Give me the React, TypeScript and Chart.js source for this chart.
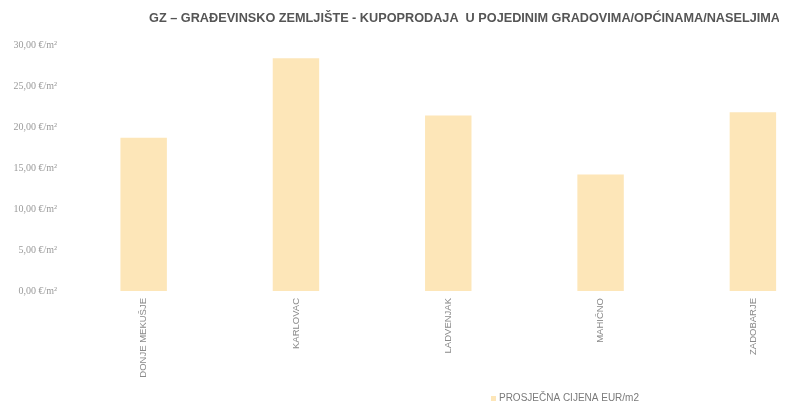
import { useEffect, useRef } from 'react';
import { Chart, registerables } from 'chart.js';

Chart.register(...registerables);

const TITLE = 'GZ – GRAĐEVINSKO ZEMLJIŠTE - KUPOPRODAJA  U POJEDINIM GRADOVIMA/OPĆINAMA/NASELJIMA';
const categories = ['DONJE MEKUŠJE', 'KARLOVAC', 'LADVENJAK', 'MAHIČNO', 'ZADOBARJE'];
const prices = [18.7, 28.4, 21.4, 14.2, 21.8];
const seriesLabel = 'PROSJEČNA CIJENA EUR/m2';
const yTicks = [0, 5, 10, 15, 20, 25, 30];

const BAR_COLOR = '#fde6b8';

const legendPlugin = {
  id: 'customLegend',
  afterDraw(chart: any) {
    const { ctx } = chart;
    const x = chart.width * 0.62;
    const y = chart.height - 8.5;
    ctx.save();
    ctx.fillStyle = BAR_COLOR;
    ctx.fillRect(x, y - 2.5, 5, 5);
    ctx.fillStyle = '#7a7a7a';
    ctx.font = '10px "Liberation Sans", Arial, sans-serif';
    ctx.textBaseline = 'middle';
    ctx.textAlign = 'left';
    ctx.fillText(seriesLabel, x + 8, y);
    ctx.restore();
  },
};

export default function App() {
  const ref = useRef<HTMLCanvasElement | null>(null);

  useEffect(() => {
    if (!ref.current) return;
    const chart = new Chart(ref.current, {
      type: 'bar',
      data: {
        datasets: [
          {
            label: seriesLabel,
            data: prices.map((y, i) => ({ x: i, y })),
            backgroundColor: BAR_COLOR,
            borderWidth: 0,
            barPercentage: 0.305,
            categoryPercentage: 1,
          },
        ],
      },
      options: {
        animation: false,
        responsive: true,
        maintainAspectRatio: false,
        layout: { padding: { top: 0, right: 7, bottom: 0, left: 0 } },
        plugins: {
          legend: { display: false },
          tooltip: { enabled: false },
          title: {
            display: true,
            text: TITLE,
            align: 'end',
            color: '#555555',
            font: { family: '"Liberation Sans", Arial, sans-serif', size: 12.7, weight: 'bold' },
            padding: { top: 3, bottom: 18.8 },
          },
        },
        scales: {
          x: {
            type: 'linear',
            offset: false,
            min: -0.5,
            max: 4.178,
            grid: { display: false, drawTicks: false, offset: false },
            border: { display: false },
            afterBuildTicks: (s: any) => {
              s.ticks = categories.map((_, i) => ({ value: i }));
            },
            afterFit: (s: any) => {
              s.height = 116;
            },
            ticks: {
              autoSkip: false,
              minRotation: 90,
              maxRotation: 90,
              padding: 7,
              color: '#8a8a8a',
              font: { family: '"Liberation Sans", Arial, sans-serif', size: 9.5 },
              callback: (v: any) => (Number.isInteger(v) ? categories[v] : ''),
            },
          },
          y: {
            min: 0,
            max: 30,
            grid: { display: false, drawTicks: false },
            border: { display: false },
            afterBuildTicks: (s: any) => {
              s.ticks = yTicks.map((v) => ({ value: v }));
            },
            afterFit: (s: any) => {
              s.width = 59.5;
            },
            ticks: {
              padding: 10.5,
              color: '#9a9a9a',
              font: { family: '"Liberation Serif", "DejaVu Serif", serif', size: 10 },
              callback: (v: any) => Number(v).toFixed(2).replace('.', ',') + ' €/m²',
            },
          },
        },
      },
      plugins: [legendPlugin],
    });
    return () => chart.destroy();
  }, []);

  return (
    <div style={{ width: 779, height: 399, position: 'relative' }}>
      <canvas ref={ref} />
    </div>
  );
}
